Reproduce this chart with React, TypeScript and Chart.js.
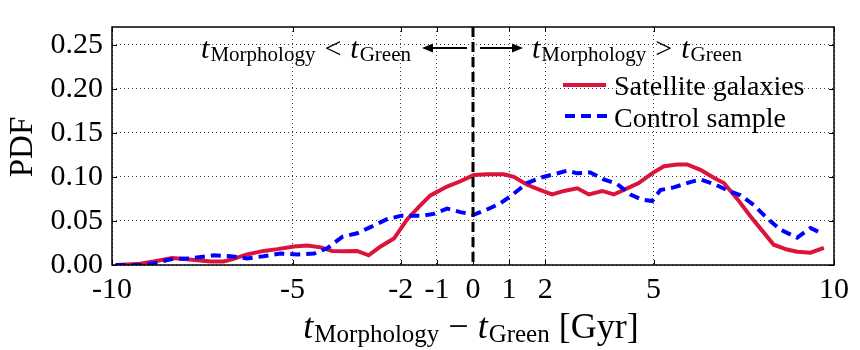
import React, { useEffect, useRef } from "react";
import { Chart, registerables } from "chart.js";

Chart.register(...registerables);

const xTicks = [-10, -5, -2, -1, 0, 1, 2, 5, 10];
const yTicks = [0, 0.05, 0.1, 0.15, 0.2, 0.25];

const satelliteX = [-9.9, -9.3, -8.85, -8.33, -7.92, -7.27, -6.91, -6.63, -6.26, -5.8, -5.42, -4.96, -4.59, -4.22, -3.9, -3.58, -3.21, -2.89, -2.56, -2.19, -1.82, -1.5, -1.18, -0.72, -0.35, 0.02, 0.39, 0.85, 1.13, 1.5, 1.87, 2.19, 2.52, 2.89, 3.21, 3.58, 3.9, 4.27, 4.59, 4.96, 5.29, 5.66, 5.93, 6.3, 6.67, 6.95, 7.32, 7.69, 8.01, 8.33, 8.7, 8.98, 9.35, 9.72];
const satelliteY = [0, 0.001, 0.004, 0.008, 0.0066, 0.004, 0.004, 0.007, 0.012, 0.016, 0.018, 0.021, 0.022, 0.02, 0.016, 0.0155, 0.016, 0.011, 0.021, 0.03, 0.052, 0.066, 0.079, 0.089, 0.095, 0.102, 0.103, 0.103, 0.1, 0.091, 0.085, 0.08, 0.084, 0.087, 0.08, 0.084, 0.08, 0.087, 0.093, 0.104, 0.112, 0.114, 0.114, 0.108, 0.099, 0.093, 0.075, 0.055, 0.039, 0.023, 0.0175, 0.015, 0.014, 0.0195];

const controlX = [-9.9, -9.2, -8.85, -8.3, -7.85, -7.18, -6.72, -6.26, -5.8, -5.33, -4.87, -4.4, -4.04, -3.62, -3.21, -2.84, -2.38, -1.98, -1.4, -1.09, -0.72, -0.35, 0.02, 0.39, 0.76, 1.13, 1.5, 1.87, 2.24, 2.61, 2.89, 3.25, 3.62, 3.99, 4.36, 4.69, 4.96, 5.19, 5.56, 6.02, 6.3, 6.67, 7.04, 7.41, 7.78, 8.15, 8.52, 8.98, 9.35, 9.6];
const controlY = [0, 0, 0.002, 0.007, 0.0075, 0.011, 0.01, 0.0075, 0.01, 0.013, 0.012, 0.013, 0.019, 0.032, 0.036, 0.043, 0.052, 0.056, 0.056, 0.058, 0.064, 0.06, 0.057, 0.063, 0.07, 0.081, 0.093, 0.099, 0.103, 0.107, 0.104, 0.105, 0.097, 0.092, 0.08, 0.074, 0.0725, 0.085, 0.088, 0.094, 0.097, 0.092, 0.085, 0.079, 0.068, 0.053, 0.04, 0.031, 0.042, 0.037];

const seriesNames = ["Satellite galaxies", "Control sample"];
const seriesColors = ["#dc143c", "#0000ff"];

const FONT = '"Liberation Serif", "Times New Roman", serif';

type Seg = { text: string; size: number; italic?: boolean; dy?: number; gap?: number };

function segWidth(ctx: CanvasRenderingContext2D, segs: Seg[]) {
  let w = 0;
  for (const s of segs) {
    ctx.font = `${s.italic ? "italic " : ""}${s.size}px ${FONT}`;
    w += ctx.measureText(s.text).width + (s.gap || 0);
  }
  return w;
}

function drawSegs(ctx: CanvasRenderingContext2D, segs: Seg[], x: number, y: number) {
  ctx.textAlign = "left";
  ctx.textBaseline = "alphabetic";
  for (const s of segs) {
    ctx.font = `${s.italic ? "italic " : ""}${s.size}px ${FONT}`;
    ctx.fillText(s.text, x, y + (s.dy || 0));
    x += ctx.measureText(s.text).width + (s.gap || 0);
  }
}

const decor = {
  id: "decor",
  afterDatasetsDraw(chart: any) {
    const { ctx, chartArea, scales } = chart;
    const { top, bottom } = chartArea;
    const x0 = scales.x.getPixelForValue(0);
    ctx.save();
    ctx.strokeStyle = "#000";
    ctx.lineWidth = 3;
    ctx.setLineDash([10, 5]);
    ctx.beginPath();
    ctx.moveTo(x0, top);
    ctx.lineTo(x0, bottom);
    ctx.stroke();
    ctx.restore();
  },
  afterDraw(chart: any) {
    const { ctx, chartArea, scales } = chart;
    const { left, right, top, bottom } = chartArea;
    ctx.save();
    // frame
    ctx.strokeStyle = "#000";
    ctx.lineWidth = 1.5;
    ctx.setLineDash([]);
    ctx.strokeRect(left, top, right - left, bottom - top);
    // inward ticks
    ctx.lineWidth = 1;
    ctx.beginPath();
    for (const v of xTicks) {
      const px = Math.round(scales.x.getPixelForValue(v)) + 0.5;
      ctx.moveTo(px, bottom);
      ctx.lineTo(px, bottom - 5);
      ctx.moveTo(px, top);
      ctx.lineTo(px, top + 5);
    }
    for (const v of yTicks) {
      const py = Math.round(scales.y.getPixelForValue(v)) + 0.5;
      ctx.moveTo(left, py);
      ctx.lineTo(left + 5, py);
      ctx.moveTo(right, py);
      ctx.lineTo(right - 5, py);
    }
    ctx.stroke();

    ctx.fillStyle = "#000";
    // y title
    ctx.save();
    ctx.translate(32, 147);
    ctx.rotate(-Math.PI / 2);
    ctx.font = `33px ${FONT}`;
    ctx.textAlign = "center";
    ctx.textBaseline = "alphabetic";
    ctx.fillText("PDF", 0, 0);
    ctx.restore();

    // x title
    const xTitle: Seg[] = [
      { text: "t", size: 36, italic: true, gap: 1 },
      { text: "Morphology", size: 25, dy: 4 },
      { text: " \u2212 ", size: 36 },
      { text: "t", size: 36, italic: true, gap: 1 },
      { text: "Green", size: 25, dy: 4 },
      { text: " [Gyr]", size: 36 },
    ];
    const cx = (left + right) / 2;
    const tw = segWidth(ctx, xTitle);
    drawSegs(ctx, xTitle, cx - tw / 2 - 2, 338);

    // annotations
    const leftNote: Seg[] = [
      { text: "t", size: 30, italic: true, gap: 1 },
      { text: "Morphology", size: 21, dy: 3, gap: 9 },
      { text: "<", size: 30, gap: 9 },
      { text: "t", size: 30, italic: true, gap: 1 },
      { text: "Green", size: 21, dy: 3 },
    ];
    const rightNote: Seg[] = [
      { text: "t", size: 30, italic: true, gap: 1 },
      { text: "Morphology", size: 21, dy: 3, gap: 9 },
      { text: ">", size: 30, gap: 9 },
      { text: "t", size: 30, italic: true, gap: 1 },
      { text: "Green", size: 21, dy: 3 },
    ];
    const lw = segWidth(ctx, leftNote);
    drawSegs(ctx, leftNote, 411 - lw, 58);
    drawSegs(ctx, rightNote, 532, 58);

    // arrows
    const arrow = (x1: number, x2: number, y: number) => {
      ctx.lineWidth = 2;
      ctx.beginPath();
      const dir = Math.sign(x2 - x1);
      ctx.moveTo(x1, y);
      ctx.lineTo(x2 - dir * 8, y);
      ctx.stroke();
      ctx.beginPath();
      ctx.moveTo(x2, y);
      ctx.lineTo(x2 - dir * 11, y - 4.5);
      ctx.lineTo(x2 - dir * 11, y + 4.5);
      ctx.closePath();
      ctx.fill();
    };
    arrow(467, 422, 48);
    arrow(480, 523, 48);

    // legend
    ctx.lineWidth = 4;
    ctx.strokeStyle = seriesColors[0];
    ctx.beginPath();
    ctx.moveTo(563, 85);
    ctx.lineTo(606, 85);
    ctx.stroke();
    ctx.strokeStyle = seriesColors[1];
    ctx.setLineDash([10, 6]);
    ctx.beginPath();
    ctx.moveTo(565, 116);
    ctx.lineTo(607, 116);
    ctx.stroke();
    ctx.setLineDash([]);
    ctx.font = `28px ${FONT}`;
    ctx.textAlign = "left";
    ctx.textBaseline = "alphabetic";
    ctx.fillText(seriesNames[0], 614, 95);
    ctx.fillText(seriesNames[1], 614, 127);
    ctx.restore();
  },
};

export default function App() {
  const ref = useRef<HTMLCanvasElement | null>(null);
  useEffect(() => {
    document.body.style.margin = "0";
    const canvas = ref.current!;
    const gridColor = "rgba(0,0,0,0.75)";
    const chart = new Chart(canvas, {
      type: "line",
      data: {
        datasets: [
          {
            label: seriesNames[0],
            data: satelliteX.map((x, i) => ({ x, y: satelliteY[i] })),
            borderColor: seriesColors[0],
            borderWidth: 4,
            pointRadius: 0,
            tension: 0,
            fill: false,
            order: 2,
          },
          {
            label: seriesNames[1],
            data: controlX.map((x, i) => ({ x, y: controlY[i] })),
            borderColor: seriesColors[1],
            borderWidth: 4,
            borderDash: [10, 6],
            pointRadius: 0,
            tension: 0,
            fill: false,
            order: 1,
          },
        ],
      },
      options: {
        animation: false,
        responsive: false,
        devicePixelRatio: 1,
        layout: { padding: { left: 0, right: 26, top: 21, bottom: 0 } },
        plugins: { legend: { display: false }, tooltip: { enabled: false } },
        scales: {
          x: {
            type: "linear",
            min: -10,
            max: 10,
            afterBuildTicks: (s: any) => {
              s.ticks = xTicks.map((v) => ({ value: v }));
            },
            afterFit: (s: any) => {
              s.height = 85;
            },
            ticks: {
              autoSkip: false,
              maxRotation: 0,
              padding: 7,
              color: "#000",
              font: { family: FONT, size: 30 },
              callback: (v: any) => String(v),
            },
            grid: { color: gridColor, lineWidth: 1, drawTicks: false },
            border: { display: false, dash: [1, 3] },
          },
          y: {
            type: "linear",
            min: 0,
            max: 0.27,
            afterBuildTicks: (s: any) => {
              s.ticks = yTicks.map((v) => ({ value: v }));
            },
            afterFit: (s: any) => {
              s.width = 112;
            },
            ticks: {
              padding: 9,
              color: "#000",
              font: { family: FONT, size: 30 },
              callback: (v: any) => Number(v).toFixed(2),
            },
            grid: { color: gridColor, lineWidth: 1, drawTicks: false },
            border: { display: false, dash: [1, 3] },
          },
        },
      },
      plugins: [decor],
    });
    return () => chart.destroy();
  }, []);
  return <canvas ref={ref} width={860} height={350} style={{ display: "block" }} />;
}
